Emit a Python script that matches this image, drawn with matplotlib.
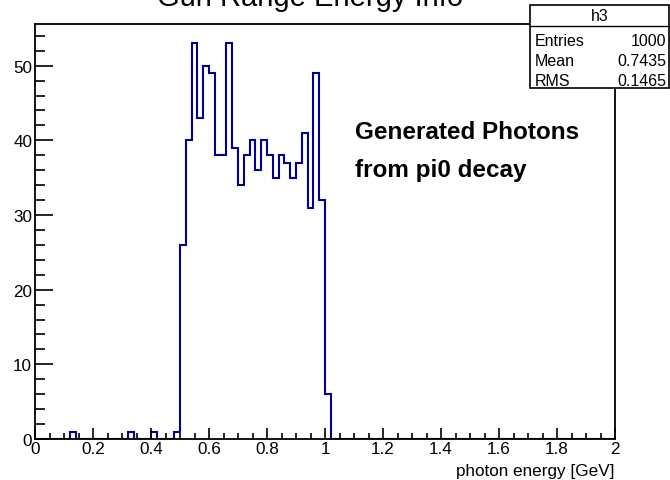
# ROOT-style histogram of generated photon energies
import numpy as np
import matplotlib
matplotlib.use("Agg")
import matplotlib.pyplot as plt
from matplotlib.patches import Rectangle
from matplotlib.lines import Line2D
from matplotlib.ticker import MultipleLocator

plt.rcParams['font.family'] = ['Liberation Sans', 'DejaVu Sans']

# histogram data: 100 bins between 0 and 2 GeV
x_min, x_max, n_bins = 0.0, 2.0, 100
counts = [0, 0, 0, 0, 0, 0, 1, 0, 0, 0,
          0, 0, 0, 0, 0, 0, 1, 0, 0, 0,
          1, 0, 0, 0, 1, 26, 40, 53, 43, 50,
          49, 38, 38, 53, 39, 34, 38, 40, 36, 40,
          38, 35, 38, 37, 35, 37, 41, 31, 49, 32,
          6, 0, 0, 0, 0, 0, 0, 0, 0, 0,
          0, 0, 0, 0, 0, 0, 0, 0, 0, 0,
          0, 0, 0, 0, 0, 0, 0, 0, 0, 0,
          0, 0, 0, 0, 0, 0, 0, 0, 0, 0,
          0, 0, 0, 0, 0, 0, 0, 0, 0, 0]

title = "Gun Range Energy Info"
x_label = "photon energy [GeV]"
hist_name = "h3"
stat_names = ["Entries", "Mean", "RMS"]
stat_values = ["1000", "0.7435", "0.1465"]
note_lines = ["Generated Photons", "from pi0 decay"]

W, H = 670, 481
fig = plt.figure(figsize=(W / 100, H / 100), dpi=100)

def fx(px):
    return px / W

def fy(py):
    return 1 - py / H

ax_l, ax_r, ax_t, ax_b = 35, 615, 24.5, 440
ax = fig.add_axes([fx(ax_l), fy(ax_b), fx(ax_r - ax_l), (ax_b - ax_t) / H])

edges = np.linspace(x_min, x_max, n_bins + 1)
ax.stairs(counts, edges, baseline=0, color='#000099', linewidth=1.5)

ax.set_xlim(x_min, x_max)
ax.set_ylim(0, max(counts) * 1.05)

ax.xaxis.set_major_locator(MultipleLocator(0.2))
ax.xaxis.set_minor_locator(MultipleLocator(0.05))
ax.yaxis.set_major_locator(MultipleLocator(10))
ax.yaxis.set_minor_locator(MultipleLocator(2))
ax.xaxis.set_major_formatter(plt.FuncFormatter(lambda v, p: ('%g' % round(v, 2))))

ax.tick_params(axis='x', which='major', direction='in', length=8, width=1.2,
               labelsize=12.3, pad=1.5)
ax.tick_params(axis='x', which='minor', direction='in', length=4, width=1.2)
ax.tick_params(axis='y', which='major', direction='in', length=13, width=1.2,
               labelsize=12.3, pad=2)
ax.tick_params(axis='y', which='minor', direction='in', length=7, width=1.2)
for s in ax.spines.values():
    s.set_linewidth(1.3)

ax.set_xlabel(x_label, fontsize=12.3)
ax.xaxis.set_label_coords(1.0, -0.058)
ax.xaxis.label.set_horizontalalignment('right')

# title, clipped at top of canvas like the original
fig.text(fx(310), fy(6), title, fontsize=21, ha='center', va='baseline')

# annotation text
fig.text(fx(355), fy(133), note_lines[0], fontsize=17.5, fontweight='bold',
         va='center', ha='left')
fig.text(fx(355), fy(170), note_lines[1], fontsize=17.5, fontweight='bold',
         va='center', ha='left')

# stats box
bx0, bx1, by0, by1 = 530, 669, 6, 89
box = Rectangle((fx(bx0), fy(by1)), fx(bx1 - bx0), (by1 - by0) / H,
                transform=fig.transFigure, facecolor='white', edgecolor='black',
                linewidth=1.2, zorder=5)
fig.add_artist(box)
fig.add_artist(Line2D([fx(bx0), fx(bx1)], [fy(27), fy(27)],
                      transform=fig.transFigure, color='black', linewidth=1, zorder=6))
fig.text(fx((bx0 + bx1) / 2), fy(16.5), hist_name, fontsize=11.5, ha='center',
         va='center', zorder=7)
for i, (n, v) in enumerate(zip(stat_names, stat_values)):
    yy = fy(42 + 20 * i)
    fig.text(fx(535), yy, n, fontsize=11.5, ha='left', va='center', zorder=7)
    fig.text(fx(666), yy, v, fontsize=11.5, ha='right', va='center', zorder=7)

fig.savefig('out.png', dpi=100)
